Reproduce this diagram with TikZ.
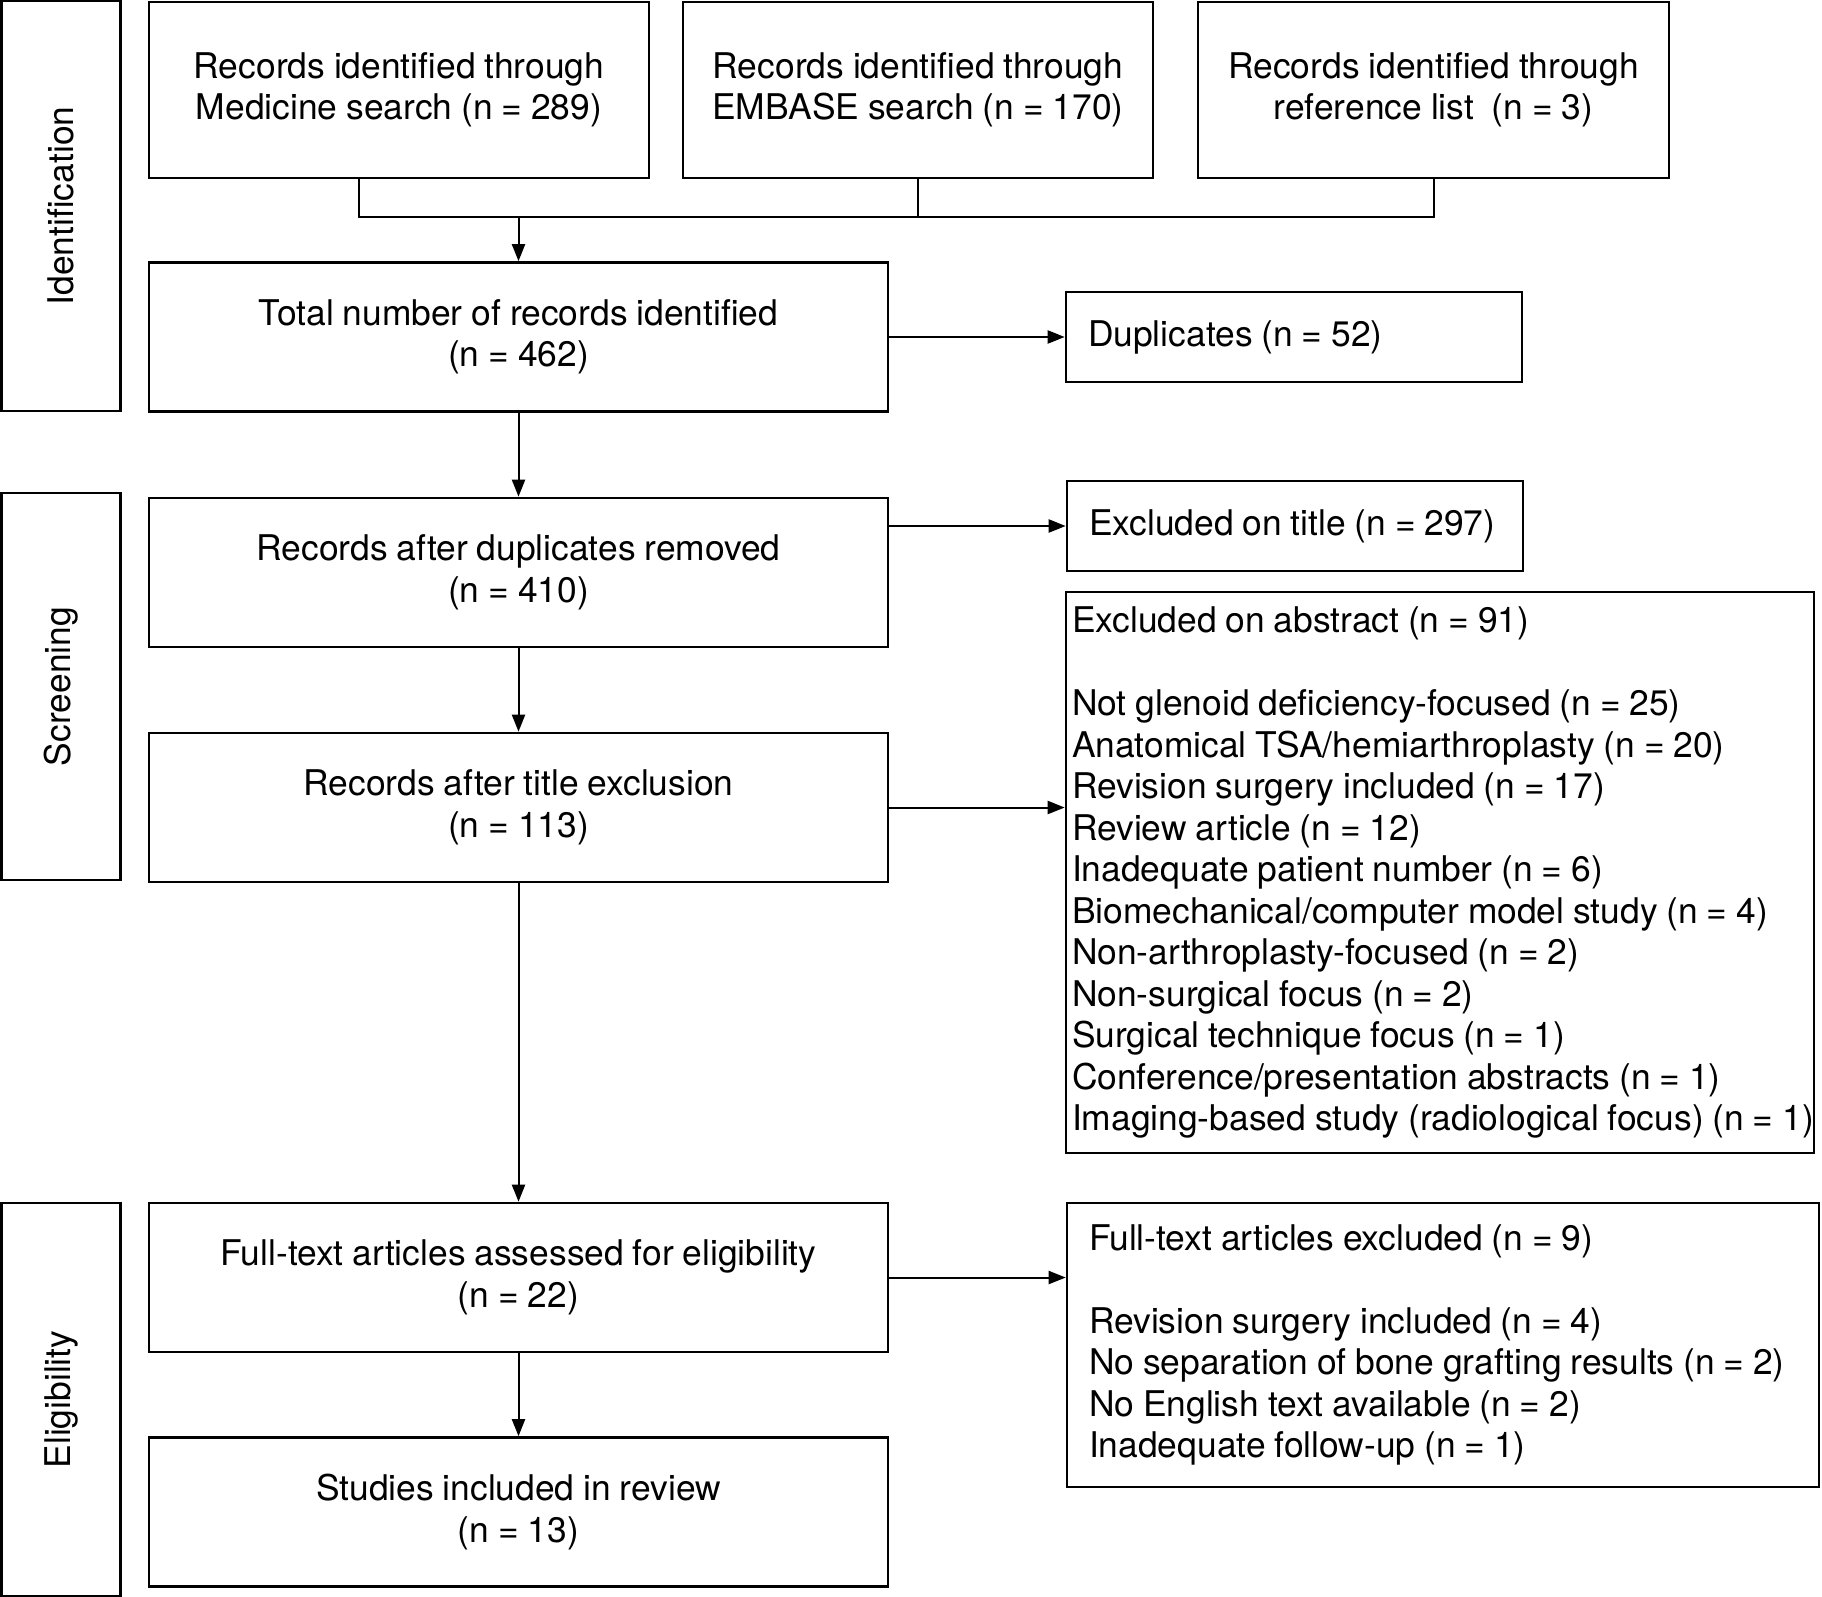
\documentclass[tikz,border=0pt]{standalone}
\usepackage{fontspec}
\setmainfont{TeX Gyre Heros}[WordSpace=0.9]
\usetikzlibrary{arrows.meta}

\begin{document}
\begin{tikzpicture}[x=1pt,y=-1pt,line width=2.6pt,font=\fontsize{35.4}{41.5}\selectfont,
  link/.style={line width=2pt},
  arr/.style={link,-{Triangle[length=17pt,width=13pt]}},
  stage/.style={draw,rotate=90,minimum height=119pt,inner sep=0pt},
  srcbox/.style={draw,minimum height=176pt,align=center},
  mainbox/.style={draw,minimum width=739pt,minimum height=149pt,align=center},
  sidebox/.style={draw,align=flush left,inner xsep=22pt,inner ysep=0pt}]
\useasboundingbox (0,0) rectangle (1822,1597);
\node[stage,minimum width=410pt] (ident) at (61,206) {Identification};
\node[stage,minimum width=387pt] (screen) at (61,686.5) {Screening};
\node[stage,minimum width=393pt] (elig) at (61,1399.5) {Eligibility};
\node[srcbox,minimum width=500pt] (medline) at (399,90) {Records identified through\\Medicine search (n = 289)};
\node[srcbox,minimum width=470pt] (embase) at (918,90) {Records identified through\\EMBASE search (n = 170)};
\node[srcbox,minimum width=471pt] (reflist) at (1433.5,90) {Records identified through\\reference list\ \ (n = 3)};
\coordinate (join) at (518.5,217);
\node[mainbox] (total) at (518.5,337) {Total number of records identified\\(n = 462)};
\node[mainbox] (recdup) at (518.5,572.5) {Records after duplicates removed\\(n = 410)};
\node[mainbox] (rectitle) at (518.5,807.5) {Records after title exclusion\\(n = 113)};
\node[mainbox] (fulltext) at (518.5,1277.5) {Full-text articles assessed for eligibility\\(n = 22)};
\node[mainbox] (included) at (518.5,1512) {Studies included in review\\(n = 13)};
\node[sidebox,text width=412pt,minimum height=90pt] (dupl) at (1294,337) {Duplicates (n = 52)};
\node[sidebox,text width=412pt,minimum height=90pt] (exttl) at (1295,526) {Excluded on title (n = 297)};
\node[sidebox,text width=736pt,inner xsep=6pt,minimum height=561pt] (exabs) at (1440,872.5) {Excluded on abstract (n = 91)\\[41.5pt]
  Not glenoid deficiency-focused (n = 25)\\
  Anatomical TSA/hemiarthroplasty (n = 20)\\
  Revision surgery included (n = 17)\\
  Review article (n = 12)\\
  Inadequate patient number (n = 6)\\
  Biomechanical/computer model study (n = 4)\\
  Non-arthroplasty-focused (n = 2)\\
  Non-surgical focus (n = 2)\\
  Surgical technique focus (n = 1)\\
  Conference/presentation abstracts (n = 1)\\
  \mbox{Imaging-based study (radiological focus) (n = 1)}};
\node[sidebox,text width=708pt,minimum height=284pt] (exfull) at (1443,1345) {Full-text articles excluded (n = 9)\\[41.5pt]
  Revision surgery included (n = 4)\\
  \mbox{No separation of bone grafting results (n = 2)}\\
  No English text available (n = 2)\\
  Inadequate follow-up (n = 1)};
\draw[link] (medline.south) ++(-40,0) |- (reflist.south |- join) -- (reflist.south);
\draw[link] (embase.south) -- (embase.south |- join);
\draw[arr] (join) -- (total);
\draw[arr] (total.east) -- (dupl.west);
\draw[arr] (total) -- (recdup);
\draw[arr] (recdup.east |- exttl) -- (exttl.west);
\draw[arr] (recdup) -- (rectitle);
\draw[arr] (rectitle.east) -- (rectitle.east -| exabs.west);
\draw[arr] (rectitle) -- (fulltext);
\draw[arr] (fulltext.east) -- (fulltext.east -| exfull.west);
\draw[arr] (fulltext) -- (included);
\end{tikzpicture}
\end{document}
